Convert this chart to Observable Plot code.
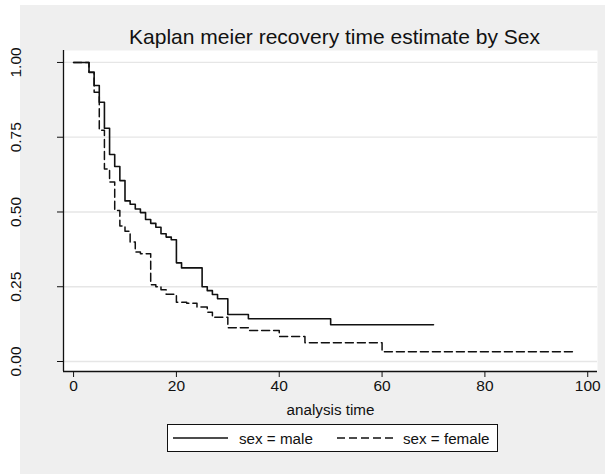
<!DOCTYPE html>
<html><head><meta charset="utf-8">
<script src="https://cdn.jsdelivr.net/npm/d3@7"></script>
<script src="https://cdn.jsdelivr.net/npm/@observablehq/plot@0.6"></script>
<style>
html,body{margin:0;padding:0;background:#fff;}
#wrap{position:relative;width:605px;height:474px;overflow:hidden;}
#bg{position:absolute;left:20px;top:5px;width:585px;height:469px;background:#efefef;}
#chart{position:absolute;left:0;top:0;}
</style></head><body>
<div id="wrap"><div id="bg"></div><div id="chart"></div></div>
<script>
const titleText = "Kaplan meier recovery time estimate by Sex";
const xLabel = "analysis time";
const seriesNames = ["sex = male", "sex = female"];
const xTicks = [0, 20, 40, 60, 80, 100];
const yTicks = [0, 0.25, 0.5, 0.75, 1];

const maleTime = [0,3,4,5,6,7,8,9,10,11,12,13,14,15,16,17,18,19,20,21,25,26,27,28,30,34,50,70];
const maleSurv = [1,0.967,0.923,0.867,0.78,0.692,0.652,0.605,0.537,0.526,0.51,0.498,0.475,0.462,0.449,0.427,0.416,0.407,0.33,0.313,0.25,0.237,0.224,0.21,0.157,0.143,0.123,0.123];

const femaleTime = [0,3,4,5,6,7,8,9,10,11,12,13,15,16,17,18,20,22,24,26,27,30,34,40,45,60,97.5];
const femaleSurv = [1,0.967,0.90,0.773,0.644,0.60,0.505,0.453,0.436,0.40,0.366,0.36,0.257,0.25,0.24,0.225,0.198,0.195,0.182,0.165,0.148,0.113,0.104,0.084,0.063,0.033,0.033];

const male = maleTime.map((t, i) => ({t, s: maleSurv[i]}));
const female = femaleTime.map((t, i) => ({t, s: femaleSurv[i]}));

const xDom = [-1.96, 101.9];
const yDom = [-0.0334, 1.040];
const font = "'Liberation Sans', Arial, sans-serif";
const ink = "#111";

const plot = Plot.plot({
  width: 605, height: 474,
  marginLeft: 63, marginRight: 8, marginTop: 50, marginBottom: 103,
  style: {background: "transparent", fontFamily: font, color: ink, overflow: "visible"},
  x: {domain: xDom},
  y: {domain: yDom},
  marks: [
    Plot.frame({fill: "white", stroke: null}),
    Plot.gridY(yTicks, {stroke: "#e6e6e6", strokeOpacity: 1, strokeWidth: 1.3}),
    Plot.line(female, {x: "t", y: "s", curve: "step-after", stroke: ink, strokeWidth: 1.5, strokeDasharray: "8,4"}),
    Plot.line(male, {x: "t", y: "s", curve: "step-after", stroke: ink, strokeWidth: 1.6}),
    Plot.ruleX([xDom[0]], {stroke: ink, strokeWidth: 1.3}),
    Plot.ruleY([yDom[0]], {stroke: ink, strokeWidth: 1.3}),
    Plot.axisX({ticks: xTicks, tickSize: 6, tickPadding: 2, fontSize: 15.5, label: null, stroke: ink, fill: ink}),
    Plot.axisY({ticks: yTicks, tickSize: 6, text: null, label: null, stroke: ink}),
    Plot.text(yTicks, {y: d => d, text: d => d3.format(".2f")(d), frameAnchor: "left", dx: -47, rotate: -90, fontSize: 15.5, textAnchor: "middle", lineAnchor: "middle", fill: ink}),
    Plot.text([xLabel], {frameAnchor: "bottom", dy: 43, fontSize: 15.2, lineAnchor: "bottom", fill: ink}),
    Plot.text([titleText], {frameAnchor: "top", dy: -7, dx: 4, fontSize: 21, lineAnchor: "bottom", fill: ink})
  ]
});
document.getElementById("chart").appendChild(plot);

// legend
const svg = d3.select(plot);
const lg = svg.append("g").attr("font-family", font).attr("font-size", 15.2).attr("fill", ink).attr("text-anchor", "start");
lg.append("rect").attr("x", 167.5).attr("y", 424.5).attr("width", 330).attr("height", 27).attr("fill", "white").attr("stroke", ink).attr("stroke-width", 1);
lg.append("line").attr("x1", 173).attr("x2", 228).attr("y1", 438).attr("y2", 438).attr("stroke", ink).attr("stroke-width", 1.6);
lg.append("text").attr("x", 239).attr("y", 443.5).attr("text-anchor", "start").text(seriesNames[0]);
lg.append("line").attr("x1", 337).attr("x2", 393).attr("y1", 438).attr("y2", 438).attr("stroke", ink).attr("stroke-width", 1.5).attr("stroke-dasharray", "8,4");
lg.append("text").attr("x", 403).attr("y", 443.5).attr("text-anchor", "start").text(seriesNames[1]);
</script>
</body></html>
